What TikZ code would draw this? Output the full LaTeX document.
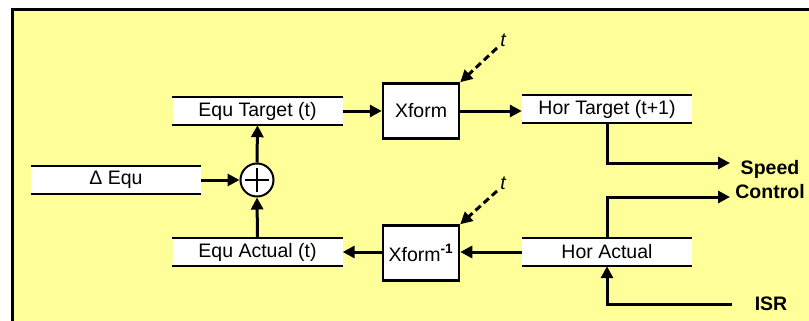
\documentclass[tikz,border=0pt]{standalone}
\usepackage{fontspec}
\setmainfont{Liberation Sans}
\usetikzlibrary{arrows.meta}
\definecolor{panel}{RGB}{255,255,153}

\begin{document}
\begin{tikzpicture}[x=1pt,y=-1pt,
  every node/.style={font=\fontsize{19.5}{24}\selectfont},
  store/.style={fill=white, minimum width=170pt, minimum height=28pt, inner sep=0pt},
  storeline/.style={line width=2pt},
  xbox/.style={draw, fill=white, line width=2.5pt, minimum width=76pt, minimum height=55pt, inner sep=0pt},
  sumnode/.style={circle, draw, fill=white, line width=2pt, minimum size=33pt, inner sep=0pt},
  flow/.style={line width=3pt, -{Triangle[length=12pt,width=12pt]}},
  clockin/.style={line width=3pt, dash pattern=on 7pt off 4pt, -{Triangle[length=12pt,width=12pt]}},
  outlabel/.style={font=\fontsize{19.5}{24}\selectfont\bfseries, align=center, inner sep=0pt}]

\useasboundingbox (0,0) rectangle (809,321);
\clip (0,0) rectangle (809,321);

% background panel
\fill[white] (0,0) rectangle (809,321);
\draw[line width=3pt, fill=panel] (12,10) rectangle (830,340);

% data stores
\node[store] (de) at (116,180) {Δ Equ};
\node[store] (et) at (257.5,111) {Equ Target (t)};
\node[store] (ea) at (257.5,252) {Equ Actual (t)};
\node[store] (ht) at (607,109) {Hor Target (t+1)};
\node[store] (ha) at (607,252) {Hor Actual};
\foreach \n in {de,et,ea,ht,ha}
  \draw[storeline] (\n.north west) -- (\n.north east) (\n.south west) -- (\n.south east);

% transforms
\node[xbox] (xf) at (421,111) {Xform};
\node[xbox] (xi) at (421,253) {Xform\textsuperscript{\bfseries -1}};

% summing junction
\node[sumnode] (sum) at (257,180) {};
\draw[line width=2pt] ([xshift=-12pt]sum.center) -- ([xshift=12pt]sum.center)
                      ([yshift=-12pt]sum.center) -- ([yshift=12pt]sum.center);

% time inputs
\node[font=\fontsize{19.5}{24}\selectfont\itshape, inner sep=0pt] (t1) at (503,40) {t};
\node[font=\fontsize{19.5}{24}\selectfont\itshape, inner sep=0pt] (t2) at (503,183) {t};
\coordinate (t1s) at (497,48);
\coordinate (t2s) at (497,191);
\draw[clockin] (t1s) -- (xf.north east);
\draw[clockin] (t2s) -- (xi.north east);

% outputs / inputs
\node[outlabel] (sc) at (770,180) {Speed\\Control};
\node[outlabel] (isr) at (771,304) {ISR};
\coordinate (sc1) at (730,163);
\coordinate (sc2) at (730,197);
\coordinate (isr0) at (732,304);

% connectors
\draw[flow] (de.east) -- (sum.west);
\draw[flow] (ea.north) -- (sum.south);
\draw[flow] (sum.north) -- (et.south);
\draw[flow] (et.east) -- (xf.west);
\draw[flow] (xf.east) -- (xf.east -| ht.west);
\draw[flow] (ht.south) |- (sc1);
\draw[flow] (ha.north) |- (sc2);
\draw[flow] (isr0) -| (ha.south);
\draw[flow] (ha.west) -- (ha.west -| xi.east);
\draw[flow] (xi.west |- ea.east) -- (ea.east);
\end{tikzpicture}
\end{document}
